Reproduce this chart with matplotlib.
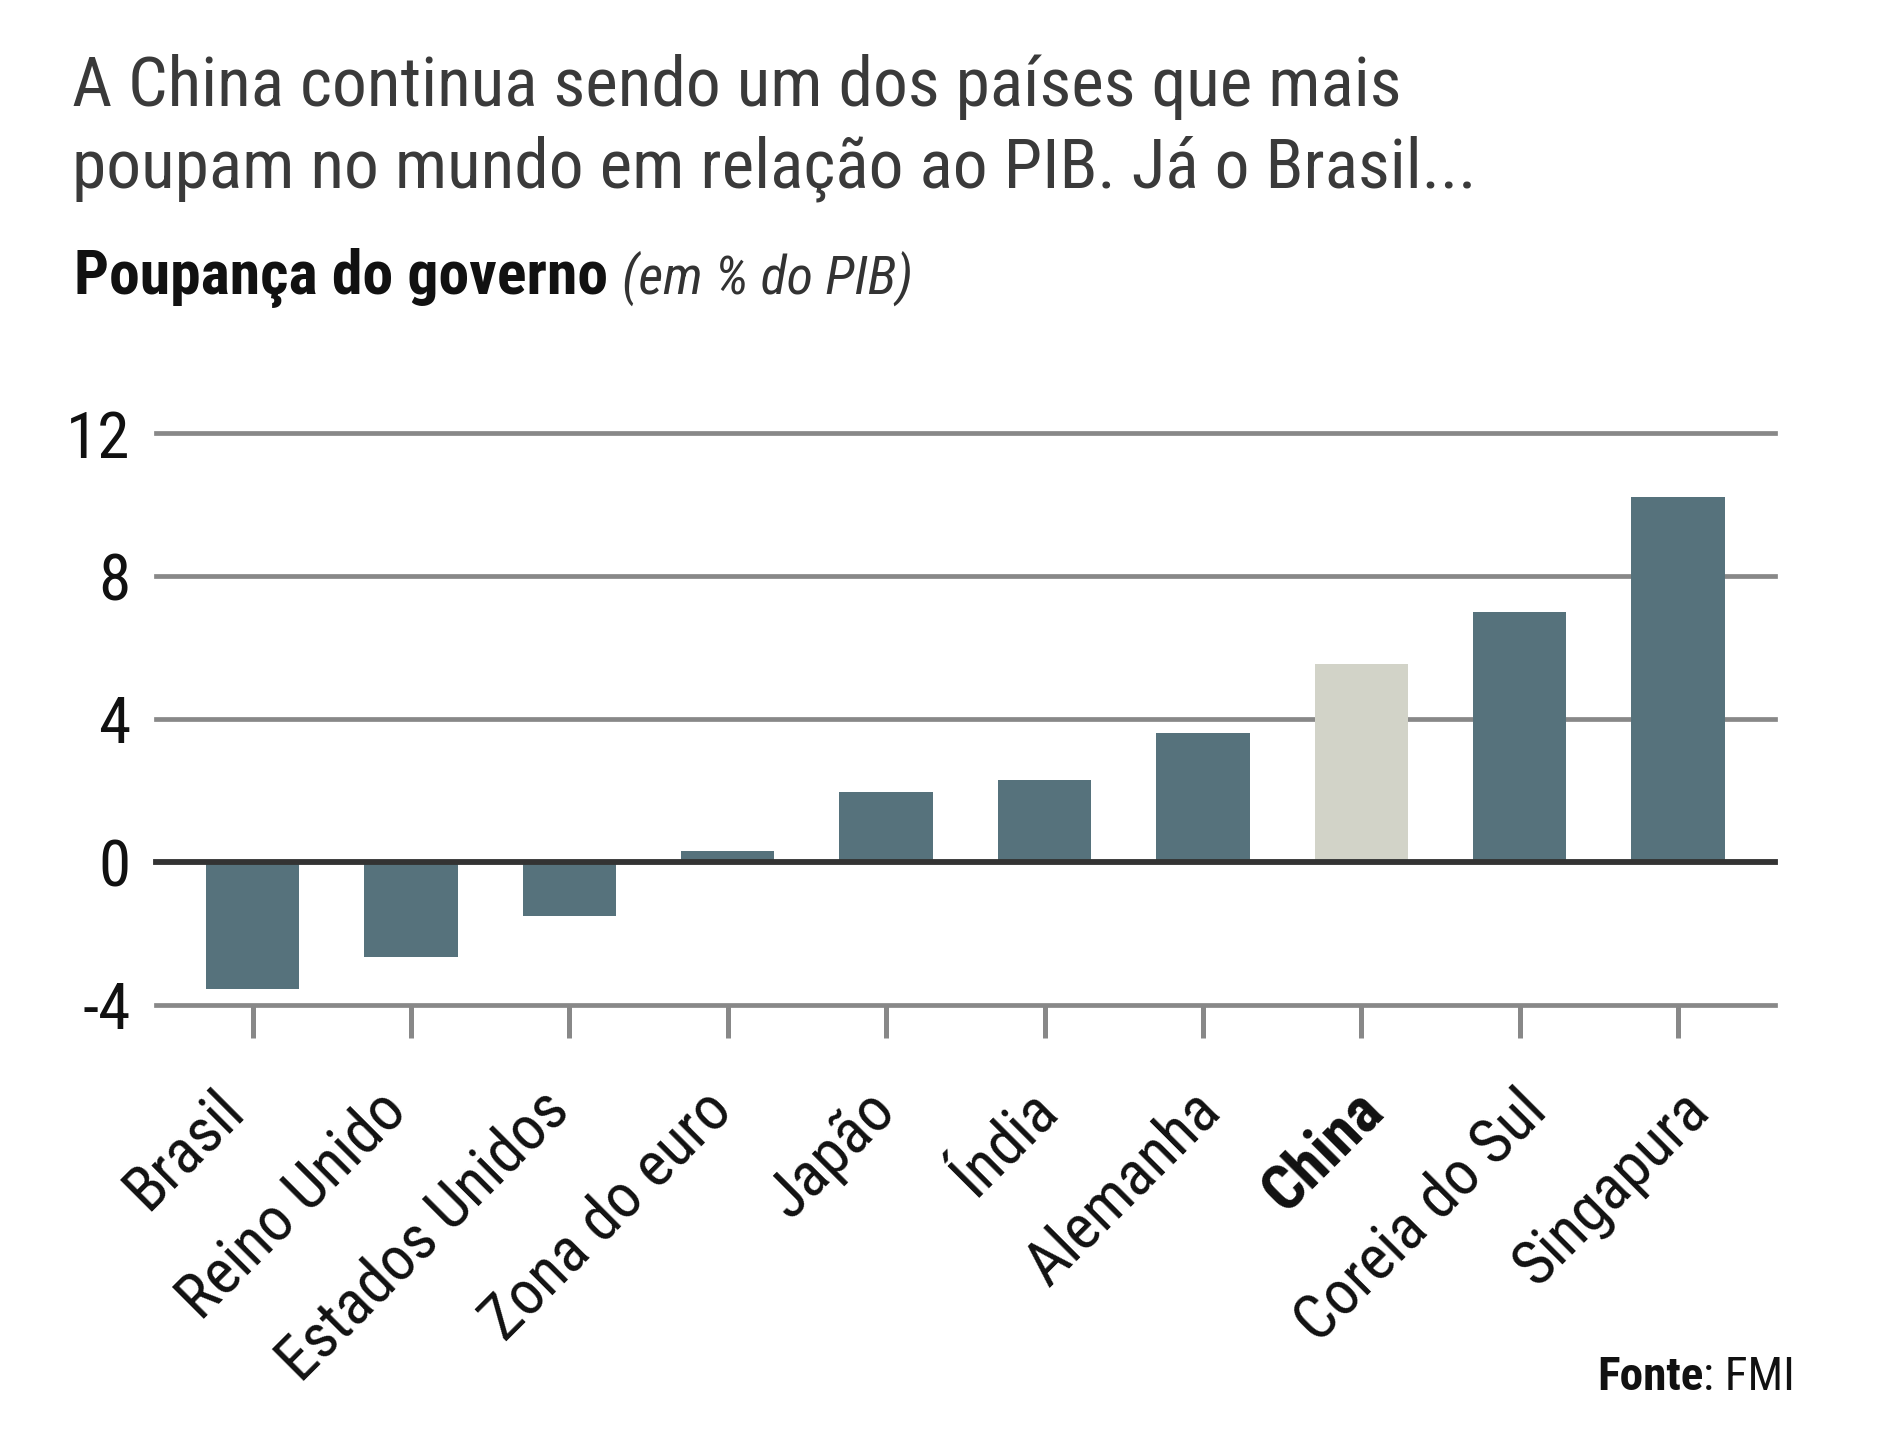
import matplotlib
matplotlib.use("Agg")
import matplotlib.pyplot as plt

# ---- data ----
categories = ["Brasil", "Reino Unido", "Estados Unidos", "Zona do euro", "Japão",
              "Índia", "Alemanha", "China", "Coreia do Sul", "Singapura"]
values = [-3.57, -2.67, -1.53, 0.29, 1.96, 2.30, 3.60, 5.53, 6.99, 10.20]
highlight = "China"
y_ticks = [-4, 0, 4, 8, 12]
y_tick_labels = ["-4", "0", "4", "8", "12"]
title_lines = ["A China continua sendo um dos países que mais",
               "poupam no mundo em relação ao PIB. Já o Brasil..."]
subtitle_bold = "Poupança do governo"
subtitle_unit = "(em % do PIB)"
source_bold = "Fonte"
source_rest = ": FMI"

FAM = ["Roboto Condensed", "Liberation Sans Narrow", "DejaVu Sans"]
plt.rcParams["font.family"] = FAM

W, H = 1878, 1447
fig = plt.figure(figsize=(W / 100, H / 100), dpi=100)
fig.patch.set_facecolor("white")

BAR = "#56727c"
HIGH = "#d2d3c8"
GRID = "#888888"
ZERO = "#333333"

# axes placement (pixels)
left, right = 155.7, 1775.0
top, bottom = 433.2, 1004.5
ax = fig.add_axes([left / W, 1 - bottom / H, (right - left) / W, (bottom - top) / H])
ax.set_facecolor("none")

x = list(range(len(categories)))
colors = [HIGH if c == highlight else BAR for c in categories]
ax.bar(x, values, width=0.59, color=colors, zorder=2)

ax.set_xlim(-0.612, len(categories) - 1 + 0.612)
ax.set_ylim(-4, 12)

for t in y_ticks:
    if t == 0:
        continue
    ax.axhline(t, color=GRID, lw=3.4, zorder=1, clip_on=False)
ax.axhline(0, color=ZERO, lw=4.2, zorder=3, clip_on=False)

for s in ax.spines.values():
    s.set_visible(False)

ax.set_yticks(y_ticks)
ax.set_yticklabels(y_tick_labels)
ax.tick_params(axis="y", length=0, pad=18, labelsize=47, labelcolor="#111111")
for lab in ax.get_yticklabels():
    lab.set_horizontalalignment("right")

ax.set_xticks(x)
ax.set_xticklabels([])
ax.tick_params(axis="x", length=24, width=3.6, color=GRID, direction="out")

# rotated category labels (label spacing slightly wider than bar spacing, as in the original)
xt = ax.get_xaxis_transform()
for i, c in enumerate(categories):
    ax.text(i * 1.028 - 0.04, -0.19, c, transform=xt, rotation=45, rotation_mode="anchor",
            ha="right", va="baseline", fontsize=45, color="#111111",
            fontweight="bold" if c == highlight else "normal")

# titles
fig.text(72 / W, 1 - 105.7 / H, title_lines[0], fontsize=50, color="#3a3a3a", va="baseline")
fig.text(72 / W, 1 - 188 / H, title_lines[1], fontsize=50, color="#3a3a3a", va="baseline")

r = fig.canvas.get_renderer()
t1 = fig.text(74 / W, 1 - 293.6 / H, subtitle_bold, fontsize=44.5, fontweight="bold",
              color="#111111", va="baseline")
bb = t1.get_window_extent(renderer=r)
fig.text((bb.x1 + 14) / W, 1 - 293.6 / H, subtitle_unit, fontsize=39, style="italic",
         color="#333333", va="baseline")

# source
s2 = fig.text(1795 / W, 1 - 1390 / H, source_rest, fontsize=34, color="#111111",
              ha="right", va="baseline")
bb2 = s2.get_window_extent(renderer=r)
fig.text(bb2.x0 / W, 1 - 1390 / H, source_bold, fontsize=34, fontweight="bold",
         color="#111111", ha="right", va="baseline")

fig.savefig("out.png", dpi=100, facecolor="white")
